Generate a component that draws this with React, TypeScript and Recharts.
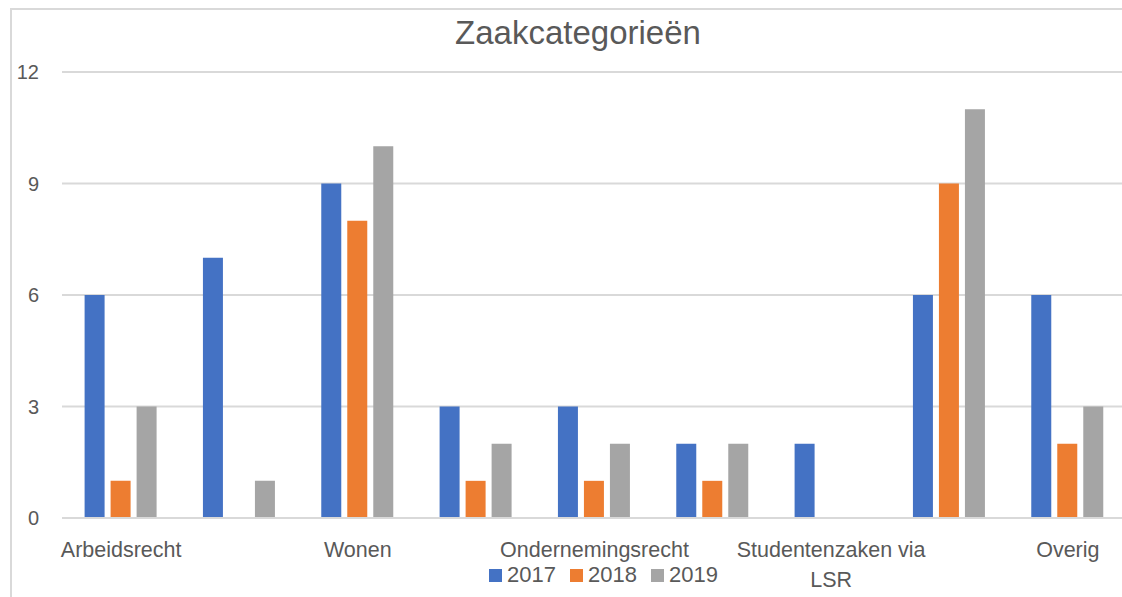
import React from "react";
import { BarChart, Bar, XAxis, YAxis, CartesianGrid, Legend } from "recharts";

const categories = [
  "Arbeidsrecht",
  "Bestuursrecht",
  "Wonen",
  "Consumentenrecht",
  "Ondernemingsrecht",
  "Familierecht",
  "Studentenzaken via LSR",
  "Verbintenissenrecht",
  "Overig",
];
const values2017 = [6, 7, 9, 3, 3, 2, 2, 6, 6];
const values2018 = [1, 0, 8, 1, 1, 1, 0, 9, 2];
const values2019 = [3, 1, 10, 2, 2, 2, 0, 11, 3];
const yTicks = [0, 3, 6, 9, 12];
const seriesNames = ["2017", "2018", "2019"];
const colors = ["#4472C4", "#ED7D31", "#A5A5A5"];

const data = categories.map((name, i) => ({
  name,
  "2017": values2017[i],
  "2018": values2018[i],
  "2019": values2019[i],
}));

const FONT = "'Liberation Sans', Arial, sans-serif";
const TEXT_COLOR = "#595959";
const LABEL_SIZE = 21.5;
const LABEL_MAX_W = 200;

let ctx: CanvasRenderingContext2D | null = null;
const measure = (s: string) => {
  if (!ctx) {
    const c = document.createElement("canvas");
    ctx = c.getContext("2d");
  }
  if (!ctx) return s.length * LABEL_SIZE * 0.5;
  ctx.font = `${LABEL_SIZE}px 'Liberation Sans', Arial, sans-serif`;
  return ctx.measureText(s).width;
};

const wrap = (s: string) => {
  const words = s.split(" ");
  const lines: string[] = [];
  let cur = "";
  for (const w of words) {
    const t = cur ? cur + " " + w : w;
    if (cur && measure(t) > LABEL_MAX_W) {
      lines.push(cur);
      cur = w;
    } else {
      cur = t;
    }
  }
  if (cur) lines.push(cur);
  return lines;
};

const XTick = (props: any) => {
  const { x, y, payload } = props;
  const lines = wrap(String(payload.value));
  return (
    <text
      x={x}
      y={y}
      textAnchor="middle"
      fill={TEXT_COLOR}
      style={{ fontSize: LABEL_SIZE, fontFamily: FONT }}
    >
      {lines.map((l, i) => (
        <tspan key={i} x={x} dy={i === 0 ? "0.72em" : 30}>
          {l}
        </tspan>
      ))}
    </text>
  );
};

const LegendContent = () => (
  <div style={{ display: "flex", justifyContent: "center", paddingLeft: 80, fontFamily: FONT, fontSize: 22, color: TEXT_COLOR, lineHeight: "24px" }}>
    {seriesNames.map((s, i) => (
      <div key={s} style={{ display: "flex", alignItems: "center", marginRight: i < 2 ? 14 : 0 }}>
        <div style={{ width: 13, height: 13, background: colors[i], marginRight: 5 }} />
        <span>{s}</span>
      </div>
    ))}
  </div>
);

export default function App() {
  return (
    <div style={{ position: "absolute", left: 0, top: 0, width: 1122, height: 597, overflow: "hidden", background: "#fff" }}>
      <div
        style={{
          position: "absolute",
          left: 10,
          top: 8,
          width: 1140,
          height: 620,
          border: "2px solid #d9d9d9",
          boxSizing: "border-box",
        }}
      />
      <div
        style={{
          position: "absolute",
          left: 0,
          top: 14,
          width: 1156,
          textAlign: "center",
          fontFamily: FONT,
          fontSize: 33,
          color: TEXT_COLOR,
        }}
      >
        Zaakcategorieën
      </div>
      <div style={{ position: "absolute", left: 0, top: 0 }}>
        <BarChart
          width={1135}
          height={597}
          data={data}
          margin={{ top: 72, right: 8, bottom: 10, left: 0 }}
          barCategoryGap={22.6}
          barGap={6}
        >
          <CartesianGrid vertical={false} stroke="#d9d9d9" strokeWidth={2} />
          <XAxis
            dataKey="name"
            interval={1}
            tickLine={false}
            axisLine={{ stroke: "#d9d9d9", strokeWidth: 2 }}
            tickSize={0}
            tickMargin={24}
            height={45}
            tick={<XTick />}
          />
          <YAxis
            width={62}
            domain={[0, 12]}
            ticks={yTicks}
            tickLine={false}
            axisLine={false}
            tickSize={0}
            tickMargin={23}
            tick={{ fill: TEXT_COLOR, fontSize: 20, fontFamily: FONT }}
          />
          <Legend verticalAlign="bottom" content={<LegendContent />} />
          {seriesNames.map((s, i) => (
            <Bar key={s} dataKey={s} fill={colors[i]} isAnimationActive={false} />
          ))}
        </BarChart>
      </div>
    </div>
  );
}
